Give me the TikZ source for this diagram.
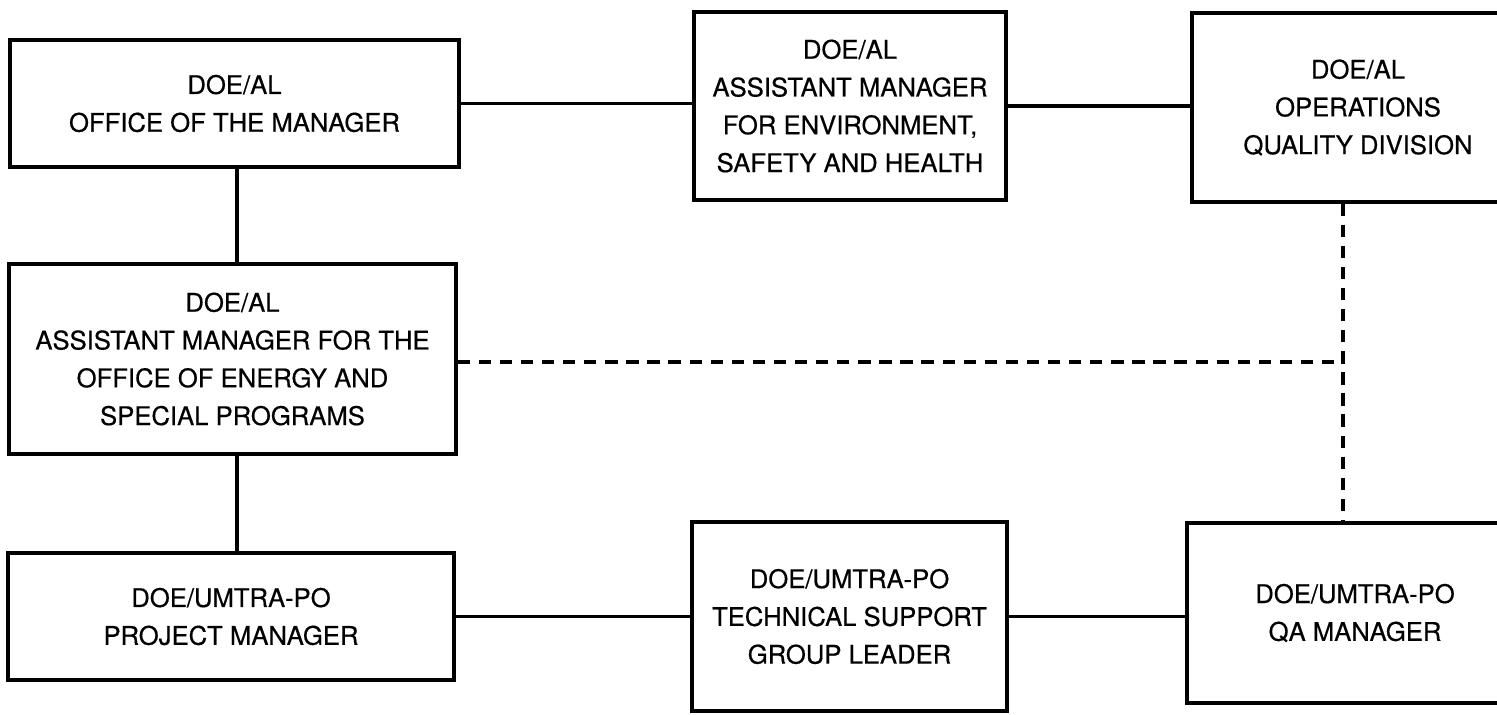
\documentclass[tikz,border=0pt]{standalone}
\usepackage{fontspec}
\setmainfont{TeX Gyre Heros}[FakeBold=0.5]
\usepackage{tikz}

\begin{document}
\begin{tikzpicture}[x=0.02cm, y=-0.02cm,
    box/.style={draw, line width=1.9pt, align=center, inner sep=0pt,
      font=\fontsize{14.6}{21.5}\selectfont},
    link/.style={line width=1.8pt},
    dashlink/.style={line width=1.8pt, dash pattern=on 7pt off 5pt}]
    \useasboundingbox (0,0) rectangle (1497,714);
    \clip (0,0) rectangle (1497,714);

    % top row
    \node[box, minimum width=89.8mm, minimum height=25.4mm] (off) at (234.5,103.5)
      {DOE/AL\\OFFICE OF THE MANAGER};
    \node[box, minimum width=62.4mm, minimum height=37.6mm] (esh) at (850,106)
      {DOE/AL\\ASSISTANT MANAGER\\FOR ENVIRONMENT,\\SAFETY AND HEALTH};
    \node[box, minimum width=66.4mm, minimum height=37.8mm] (oqd) at (1358,107.5)
      {DOE/AL\\OPERATIONS\\QUALITY DIVISION};

    % middle
    \node[box, minimum width=89.4mm, minimum height=38mm] (ene) at (232.5,359)
      {DOE/AL\\ASSISTANT MANAGER FOR THE\\OFFICE OF ENERGY AND\\SPECIAL PROGRAMS};

    % bottom row
    \node[box, minimum width=89.2mm, minimum height=25.4mm] (pm) at (231,616.5)
      {DOE/UMTRA-PO\\PROJECT MANAGER};
    \node[box, minimum width=63mm, minimum height=37.8mm] (tsg) at (849.5,616.5)
      {DOE/UMTRA-PO\\TECHNICAL SUPPORT\\GROUP LEADER};
    \node[box, minimum width=67.2mm, minimum height=36mm] (qam) at (1355,613)
      {DOE/UMTRA-PO\\QA MANAGER};

    % solid lines
    \draw[link] (off.east) -- (off.east -| esh.west);
    \draw[link] (esh.east) -- (esh.east -| oqd.west);
    \draw[link] (237,0 |- off.south) -- (237,0 |- ene.north);
    \draw[link] (237,0 |- ene.south) -- (237,0 |- pm.north);
    \draw[link] (pm.east) -- (pm.east -| tsg.west);
    \draw[link] (tsg.east) -- (tsg.east -| qam.west);

    % dashed lines
    \coordinate (jn) at (1343,362);
    \draw[dashlink] (ene.east |- jn) -- (jn);
    \draw[dashlink] (jn |- oqd.south) -- (jn |- qam.north);
  \end{tikzpicture}
\end{document}
